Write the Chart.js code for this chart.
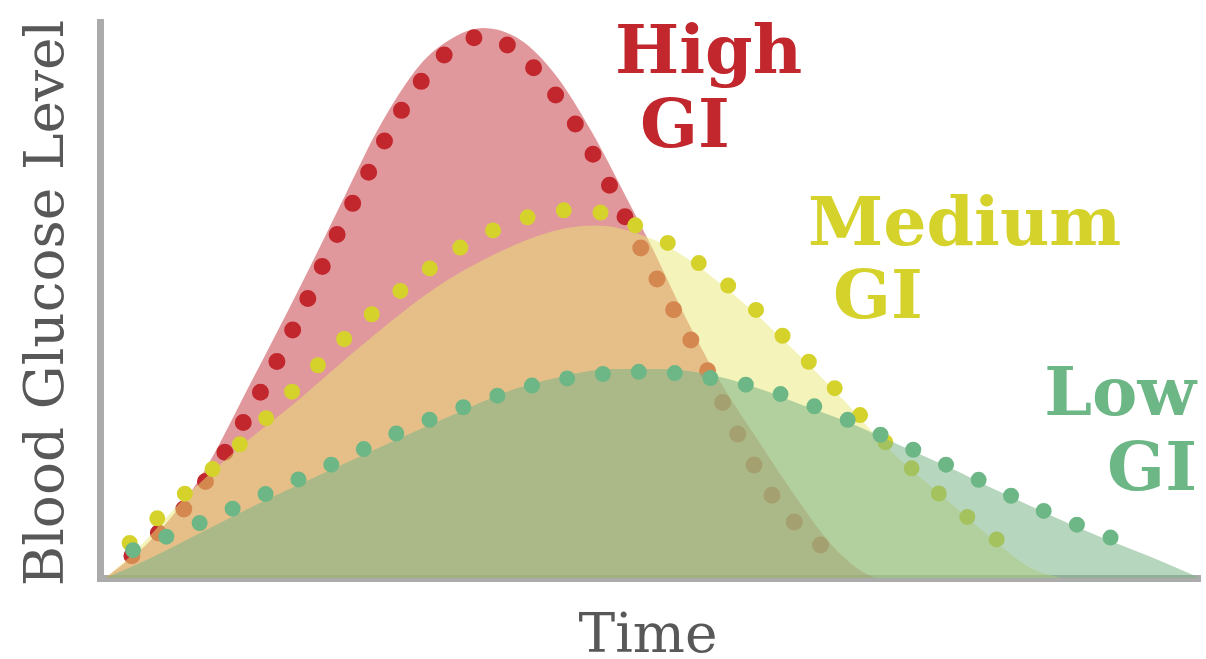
<!DOCTYPE html>
<html>
<head>
<meta charset="utf-8">
<title>Blood Glucose Level - GI curves</title>
<script src="https://cdn.jsdelivr.net/npm/chart.js@4.4.0/dist/chart.umd.min.js"></script>
<style>
  html, body { margin: 0; padding: 0; background: #fff; }
  #wrap { width: 1206px; height: 659px; position: relative; }
</style>
</head>
<body>
<div id="wrap"><canvas id="gi-chart"></canvas></div>
<script>
// Values. x = time (0-100), y = blood glucose level (0-100)
// Each curve has a filled area and a dotted outline that sits slightly apart from it.

// High GI
const highFillTime  = [0.5, 4.6, 9.1, 13.6, 18.5, 22.3, 25.5, 29.1, 31.8, 34.8, 38.2, 41.4, 44.6, 48.2, 50.3, 53.0, 55.9, 59.8, 63.6, 66.5, 68.8, 70.4];
const highFillLevel = [0, 6.8, 18.0, 34.7, 53.6, 68.9, 81.5, 92.3, 96.8, 98.9, 96.8, 90.5, 80.6, 67.1, 59.0, 47.8, 36.9, 24.8, 13.6, 6.0, 1.8, 0];
const highDotsTime  = [2.9, 8.1, 11.9, 15.3, 18.4, 21.2, 24.3, 27.5, 31.7, 34.7, 37.8, 42.2, 45.7, 48.6, 51.8, 55.2, 58.1, 61.5, 66.3];
const highDotsLevel = [4.0, 13.5, 24.3, 36.0, 48.2, 60.3, 72.5, 84.4, 94.8, 97.3, 94.8, 84.7, 73.0, 61.5, 49.5, 37.4, 25.4, 13.7, 4.5];

// Medium GI
const medFillTime  = [0.5, 2.7, 7.9, 13.0, 18.2, 22.7, 27.3, 31.6, 37.6, 42.1, 45.2, 48.8, 52.5, 57.9, 62.6, 67.3, 71.8, 77.3, 81.8, 84.6, 87.3];
const medFillLevel = [0, 3.8, 14.8, 24.0, 32.3, 40.0, 47.5, 53.6, 59.8, 62.8, 63.4, 62.0, 58.6, 50.5, 41.9, 32.6, 23.0, 13.5, 5.9, 1.8, 0];
const medDotsTime  = [2.7, 7.9, 13.0, 17.9, 22.8, 28.0, 33.6, 40.0, 43.4, 46.6, 52.5, 57.9, 62.6, 67.3, 71.8, 76.6, 81.8];
const medDotsLevel = [6.3, 15.5, 24.6, 34.4, 44.1, 52.7, 60.4, 65.5, 66.2, 65.1, 59.2, 51.3, 42.5, 33.1, 23.6, 14.6, 6.5];

// Low GI
const lowFillTime  = [0.5, 4.6, 9.1, 13.6, 18.2, 22.7, 27.3, 31.8, 37.0, 40.6, 46.6, 51.2, 56.1, 60.3, 63.6, 68.2, 73.0, 77.3, 81.8, 86.4, 90.9, 95.5, 100];
const lowFillLevel = [0, 3.6, 8.1, 12.6, 16.9, 21.0, 25.2, 29.1, 33.5, 35.6, 37.6, 37.6, 36.3, 33.8, 31.3, 27.9, 23.6, 19.8, 15.5, 11.3, 7.4, 3.8, 0];
const lowDotsTime  = [3.0, 9.3, 15.5, 21.6, 27.3, 33.6, 40.3, 46.9, 50.3, 53.6, 60.3, 66.7, 73.0, 79.3, 85.4, 91.7, 94.9];
const lowDotsLevel = [5.0, 10.1, 15.5, 20.9, 26.3, 31.1, 35.1, 36.9, 37.1, 36.5, 34.0, 29.5, 23.9, 18.2, 12.4, 7.4, 5.2];

const seriesLabels = ['High GI', 'Medium GI', 'Low GI'];

function toPoints(times, levels) {
  return times.map((t, i) => ({ x: t, y: levels[i] }));
}

// filled area, no outline
function fillSet(label, times, levels, color, order) {
  return {
    label: label,
    data: toPoints(times, levels),
    backgroundColor: color,
    borderColor: 'transparent',
    borderWidth: 0,
    fill: 'origin',
    pointRadius: 0,
    cubicInterpolationMode: 'monotone',
    order: order
  };
}

// dotted outline: zero-length dashes with round caps
function dotSet(label, times, levels, color, size, gap, order) {
  return {
    label: label,
    data: toPoints(times, levels),
    borderColor: color,
    borderWidth: size,
    borderDash: [0, gap],
    borderCapStyle: 'round',
    fill: false,
    pointRadius: 0,
    cubicInterpolationMode: 'monotone',
    order: order
  };
}

const labelPlugin = {
  id: 'giLabels',
  afterDraw(chart) {
    const ctx = chart.ctx;
    ctx.save();

    // axis titles
    ctx.fillStyle = '#585858';
    ctx.font = '55px "DejaVu Serif"';
    ctx.textAlign = 'center';
    ctx.textBaseline = 'alphabetic';
    ctx.fillText('Time', 648, 652);

    ctx.translate(63, 303);
    ctx.rotate(-Math.PI / 2);
    ctx.fillText('Blood Glucose Level', 0, 0);
    ctx.restore();

    // curve names
    ctx.save();
    ctx.font = 'bold 68px "DejaVu Serif"';
    ctx.textAlign = 'left';
    ctx.fillStyle = '#c1272d';
    ctx.fillText('High', 615, 73);
    ctx.fillText('GI', 640, 147);

    ctx.fillStyle = '#d5d22c';
    ctx.fillText('Medium', 808, 245);
    ctx.fillText('GI', 833, 318);

    ctx.textAlign = 'right';
    ctx.fillStyle = '#6cb785';
    ctx.fillText('Low', 1196, 415);
    ctx.fillText('GI', 1197, 490);
    ctx.restore();
  }
};

const ctx = document.getElementById('gi-chart').getContext('2d');
new Chart(ctx, {
  type: 'line',
  data: {
    datasets: [
      fillSet(seriesLabels[0], highFillTime, highFillLevel, 'rgba(192, 40, 48, 0.48)', 6),
      dotSet(seriesLabels[0], highDotsTime, highDotsLevel, '#c1272d', 17, 35, 5),
      fillSet(seriesLabels[1], medFillTime, medFillLevel, 'rgba(233, 231, 115, 0.5)', 4),
      dotSet(seriesLabels[1], medDotsTime, medDotsLevel, '#d5d22c', 16, 37, 3),
      fillSet(seriesLabels[2], lowFillTime, lowFillLevel, 'rgba(124, 180, 137, 0.55)', 2),
      dotSet(seriesLabels[2], lowDotsTime, lowDotsLevel, '#6cb785', 16, 36, 1)
    ]
  },
  options: {
    responsive: true,
    maintainAspectRatio: false,
    animation: false,
    layout: { padding: { left: 100, right: 6, top: 22, bottom: 81 } },
    plugins: {
      legend: { display: false },
      tooltip: { enabled: false }
    },
    scales: {
      x: {
        type: 'linear',
        min: 0,
        max: 100,
        ticks: { display: false },
        grid: { display: false, drawTicks: false },
        border: { display: true, color: '#ababab', width: 7 }
      },
      y: {
        min: 0,
        max: 100,
        ticks: { display: false },
        grid: { display: false, drawTicks: false },
        border: { display: true, color: '#ababab', width: 7 }
      }
    }
  },
  plugins: [labelPlugin]
});
</script>
</body>
</html>
